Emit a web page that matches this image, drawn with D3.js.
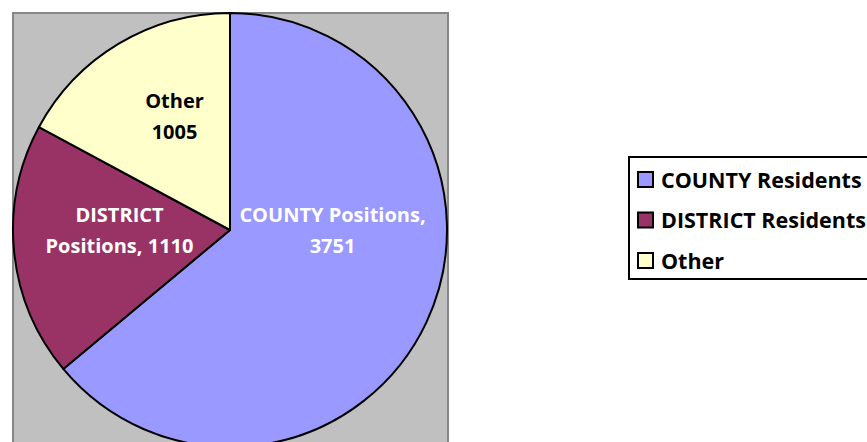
<!DOCTYPE html>
<html>
<head>
<meta charset="utf-8">
<script src="https://cdn.jsdelivr.net/npm/d3@7"></script>
<style>
  html, body { margin: 0; padding: 0; background: #fff; }
  svg { display: block; }
  text { font-family: "Open Sans", sans-serif; font-weight: bold; }
</style>
</head>
<body>
<svg id="chart"></svg>
<script>
// data
const categories = ['COUNTY Residents', 'DISTRICT Residents', 'Other'];
const values = [3751, 1110, 1005];
const sliceLabels = [['COUNTY Positions,', '3751'], ['DISTRICT', 'Positions, 1110'], ['Other', '1005']];
const colors = ['#9999FF', '#993366', '#FFFFCC'];
const labelColors = ['#ffffff', '#ffffff', '#000000'];

// layout
const width = 867, height = 442;
const plot = {x: 13, y: 13, w: 435, h: 460};
const center = {x: 230, y: 230};
const radius = 217;
const labelOffsets = [[102.5, 0], [-110.5, 0], [-55.5, -114]];
const lineGap = 31;

const svg = d3.select('#chart')
    .attr('width', width)
    .attr('height', height);

svg.append('rect')
    .attr('x', plot.x)
    .attr('y', plot.y)
    .attr('width', plot.w)
    .attr('height', plot.h)
    .attr('fill', '#C0C0C0')
    .attr('stroke', '#868686')
    .attr('stroke-width', 2);

const pie = d3.pie()
    .sort(null)
    .value(d => d);

const arc = d3.arc()
    .innerRadius(0)
    .outerRadius(radius);

const g = svg.append('g')
    .attr('transform', `translate(${center.x}, ${center.y})`);

const arcs = pie(values);

g.selectAll('path')
    .data(arcs)
    .join('path')
    .attr('d', arc)
    .attr('fill', (d, i) => colors[i])
    .attr('stroke', '#000')
    .attr('stroke-width', 2)
    .attr('stroke-linejoin', 'round');

const labels = g.selectAll('text.slice')
    .data(arcs)
    .join('text')
    .attr('class', 'slice')
    .attr('text-anchor', 'middle')
    .style('font-size', '20px')
    .attr('fill', (d, i) => labelColors[i]);

labels.each(function(d, i) {
    const t = d3.select(this);
    const [ox, oy] = labelOffsets[i];
    sliceLabels[i].forEach((line, j) => {
        t.append('tspan')
            .attr('x', ox)
            .attr('y', oy + (j - 0.5) * lineGap + 7)
            .text(line);
    });
});

// legend
const legend = svg.append('g')
    .attr('transform', 'translate(629, 157)');

legend.append('rect')
    .attr('x', 0)
    .attr('y', 0)
    .attr('width', 260)
    .attr('height', 122)
    .attr('fill', '#fff')
    .attr('stroke', '#000')
    .attr('stroke-width', 2);

const item = legend.selectAll('g.item')
    .data(categories)
    .join('g')
    .attr('class', 'item')
    .attr('transform', (d, i) => `translate(0, ${22 + i * 40.5})`);

item.append('rect')
    .attr('x', 9)
    .attr('y', -7)
    .attr('width', 15)
    .attr('height', 15)
    .attr('fill', (d, i) => colors[i])
    .attr('stroke', '#000')
    .attr('stroke-width', 2);

item.append('text')
    .attr('x', 32)
    .attr('y', 8.5)
    .style('font-size', '21.5px')
    .attr('fill', '#000')
    .text(d => d);
</script>
</body>
</html>
